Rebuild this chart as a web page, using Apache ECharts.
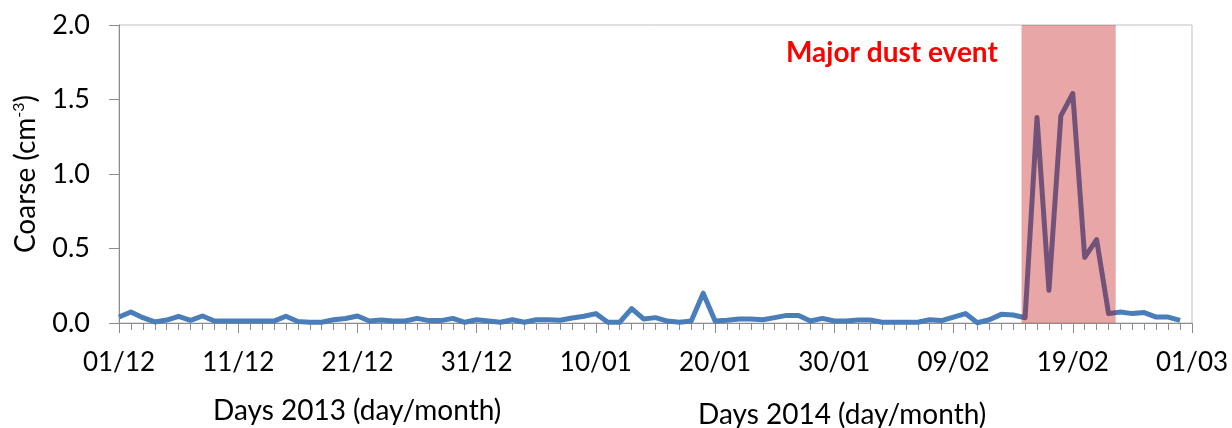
<!DOCTYPE html>
<html>
<head>
<meta charset="utf-8">
<script src="https://cdn.jsdelivr.net/npm/echarts@6/dist/echarts.min.js"></script>
<style>
  html, body { margin: 0; padding: 0; background: #fff; }
  #chart { width: 1232px; height: 428px; }
</style>
</head>
<body>
<div id="chart"></div>
<script>
// tick labels every 10 days, 01/12/2013 .. 01/03/2014
var tickLabels = ['01/12', '11/12', '21/12', '31/12', '10/01', '20/01', '30/01', '09/02', '19/02', '01/03'];

// daily coarse particle concentration (cm-3), day 0 = 01/12
var coarse = [
    0.04, 0.074, 0.036, 0.007, 0.02, 0.045, 0.018, 0.047, 0.013, 0.013,
    0.013, 0.013, 0.013, 0.013, 0.045, 0.01, 0.005, 0.005, 0.022, 0.03,
    0.047, 0.013, 0.02, 0.013, 0.013, 0.031, 0.016, 0.016, 0.031, 0.005,
    0.022, 0.013, 0.005, 0.022, 0.005, 0.022, 0.022, 0.018, 0.034, 0.045,
    0.063, 0.005, 0.005, 0.096, 0.027, 0.036, 0.013, 0.005, 0.013, 0.2,
    0.013, 0.018, 0.027, 0.027, 0.022, 0.036, 0.051, 0.051, 0.013, 0.031,
    0.013, 0.013, 0.02, 0.02, 0.005, 0.005, 0.005, 0.005, 0.022, 0.016,
    0.04, 0.063, 0.002, 0.022, 0.058, 0.054, 0.035, 1.38, 0.22, 1.39,
    1.54, 0.44, 0.56, 0.063, 0.074, 0.063, 0.07, 0.04, 0.04, 0.018
];

// major dust event span (days since 01/12)
var eventSpan = [75.7, 83.6];

var FONT = 'Lato, "Open Sans", sans-serif';

var chart = echarts.init(document.getElementById('chart'));

var points = coarse.map(function (v, i) { return [i, v]; });

chart.setOption({
    animation: false,
    textStyle: { fontFamily: FONT },
    grid: {
        left: 119, right: 40, top: 25, bottom: 105,
        show: true, borderColor: '#bfbfbf', borderWidth: 1,
        outerBoundsMode: 'none'
    },
    title: [
        {
            text: 'Days 2013 (day/month)', left: 213, top: 397, padding: 0,
            textStyle: { fontFamily: FONT, fontSize: 28, fontWeight: 'normal', color: '#000' }
        },
        {
            text: 'Days 2014 (day/month)', left: 698, top: 401, padding: 0,
            textStyle: { fontFamily: FONT, fontSize: 28, fontWeight: 'normal', color: '#000' }
        },
        {
            text: 'Major dust event', left: 786, top: 39, padding: 0,
            textStyle: { fontFamily: FONT, fontSize: 28, fontWeight: 'bold', color: '#ff0000' }
        }
    ],
    xAxis: {
        type: 'value',
        min: 0, max: 90, interval: 10,
        axisLine: { show: true, lineStyle: { color: '#8c8c8c', width: 1 } },
        axisTick: { show: true, length: 10, lineStyle: { color: '#8c8c8c' } },
        minorTick: { show: true, splitNumber: 10, length: 7, lineStyle: { color: '#8c8c8c' } },
        splitLine: { show: false },
        axisLabel: {
            margin: 27, fontSize: 26, color: '#000', fontFamily: FONT,
            formatter: function (v) { return tickLabels[Math.round(v / 10)]; }
        }
    },
    yAxis: {
        type: 'value',
        min: 0, max: 2, interval: 0.5,
        name: 'Coarse (cm{sup|-3})',
        nameLocation: 'middle',
        nameRotate: 90,
        nameGap: 78,
        nameTextStyle: {
            fontFamily: FONT, fontSize: 28, color: '#000',
            rich: { sup: { fontFamily: FONT, fontSize: 16, color: '#000', verticalAlign: 'top', padding: [0, 0, 14, 0] } }
        },
        axisLine: { show: true, lineStyle: { color: '#8c8c8c', width: 1 } },
        axisTick: { show: true, length: 10, lineStyle: { color: '#8c8c8c' } },
        splitLine: { show: false },
        axisLabel: {
            margin: 29, fontSize: 27, color: '#000', fontFamily: FONT,
            formatter: function (v) { return v.toFixed(1); }
        }
    },
    series: [
        {
            type: 'line',
            data: points,
            symbol: 'none',
            z: 2,
            lineStyle: { color: '#4a7ebb', width: 5, join: 'round' }
        },
        {
            // translucent box laid over the line for the dust event
            type: 'custom',
            z: 10,
            silent: true,
            data: [eventSpan],
            renderItem: function (params, api) {
                var p0 = api.coord([api.value(0), 2]);
                var p1 = api.coord([api.value(1), 0]);
                return {
                    type: 'rect',
                    shape: { x: p0[0], y: p0[1], width: p1[0] - p0[0], height: p1[1] - p0[1] },
                    style: { fill: 'rgba(192,0,0,0.35)' }
                };
            }
        }
    ]
});
</script>
</body>
</html>
